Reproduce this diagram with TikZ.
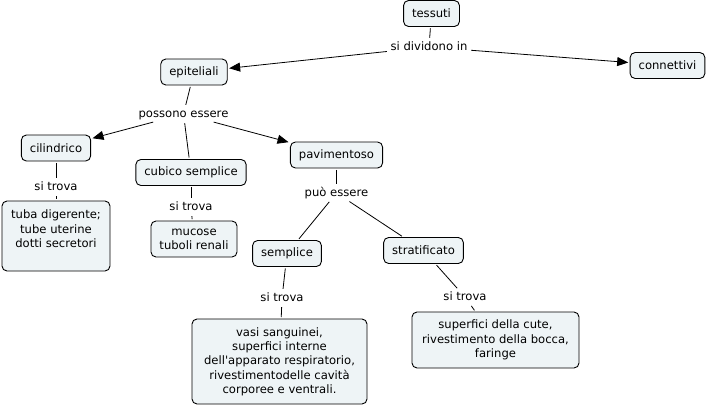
\documentclass[tikz,border=0pt]{standalone}
\usepackage{fontspec}
\setmainfont{DejaVu Sans}
\usetikzlibrary{shapes, arrows.meta, positioning}
\definecolor{cellfill}{RGB}{238,244,246}
\tikzstyle{concept} = [rectangle, draw, rounded corners=5pt, line width=0.9pt, fill=cellfill, text centered, minimum height=26pt, inner xsep=8.5pt]
\tikzstyle{link} = [inner sep=2pt, text height=8.5pt, text depth=2.5pt]
\tikzstyle{line} = [draw, line width=0.8pt, shorten <=1.5pt, shorten >=1.5pt]
\tikzstyle{arrowline} = [line, -{Triangle[length=11pt, width=9pt]}]

\begin{document}
\begin{tikzpicture}[x=1pt, y=-1pt, font=\fontsize{11.6}{14.3}\selectfont]
    \useasboundingbox (0,0) rectangle (707,407);

    \node[concept](tessuti) at (431.5,13.5) {tessuti};
    \node[link](dividono) at (429,47) {si dividono in};
    \node[concept](connettivi) at (667.5,65.5) {connettivi};
    \node[concept](epiteliali) at (194,72) {epiteliali};
    \node[link](possono) at (183.5,114) {possono essere};

    \node[concept](cilindrico) at (56,148) {cilindrico};
    \node[link, below of=cilindrico, node distance=39pt](trova1) {si trova};
    \node[concept, minimum width=108pt, minimum height=70pt, align=center](tuba) at (56,236)
        {tuba digerente;\\ tube uterine\\ dotti secretori\\ \mbox{}};

    \node[concept](cubico) at (191,172.5) {cubico semplice};
    \node[link](trova2) at (191,207) {si trova};
    \node[concept, minimum width=86pt, minimum height=36pt, align=center](mucose) at (194,239)
        {mucose\\ tuboli renali};

    \node[concept](pavimentoso) at (336.5,155) {pavimentoso};
    \node[link, below of=pavimentoso, node distance=38pt](puo) {può essere};

    \node[concept](semplice) at (287,253.5) {semplice};
    \node[link](trova3) at (282,298) {si trova};
    \node[concept, minimum width=175pt, minimum height=85pt, align=center](vasi) at (279.5,361.5)
        {vasi sanguinei,\\ superfici interne\\ dell\textquotesingle apparato respiratorio,\\ rivestimentodelle cavità\\ corporee e ventrali.};

    \node[concept](stratificato) at (423.5,250.5) {stratificato};
    \node[link](trova4) at (465,297) {si trova};
    \node[concept, minimum width=167pt, minimum height=56pt, align=center](superfici) at (495.5,340)
        {superfici della cute,\\ rivestimento della bocca,\\ faringe};

    % links
    \path[line] (tessuti) -- (dividono);
    \path[arrowline] (dividono) -- (epiteliali);
    \path[arrowline] (dividono) -- (connettivi);
    \path[line] (epiteliali) -- (possono);
    \path[arrowline] (possono) -- (cilindrico);
    \path[line] (possono) -- (cubico);
    \path[arrowline] (possono) -- (pavimentoso);
    \path[line] (cilindrico) -- (trova1);
    \path[line] (trova1) -- (tuba);
    \path[line] (cubico) -- (trova2);
    \path[line] (trova2) -- (mucose);
    \path[line] (pavimentoso) -- (puo);
    \path[line] (puo) -- (semplice);
    \path[line] (puo) -- (stratificato);
    \path[line] (semplice) -- (trova3);
    \path[line] (trova3) -- (vasi);
    \path[line] (stratificato) -- (trova4);
    \path[line] (trova4) -- (superfici);
\end{tikzpicture}
\end{document}
